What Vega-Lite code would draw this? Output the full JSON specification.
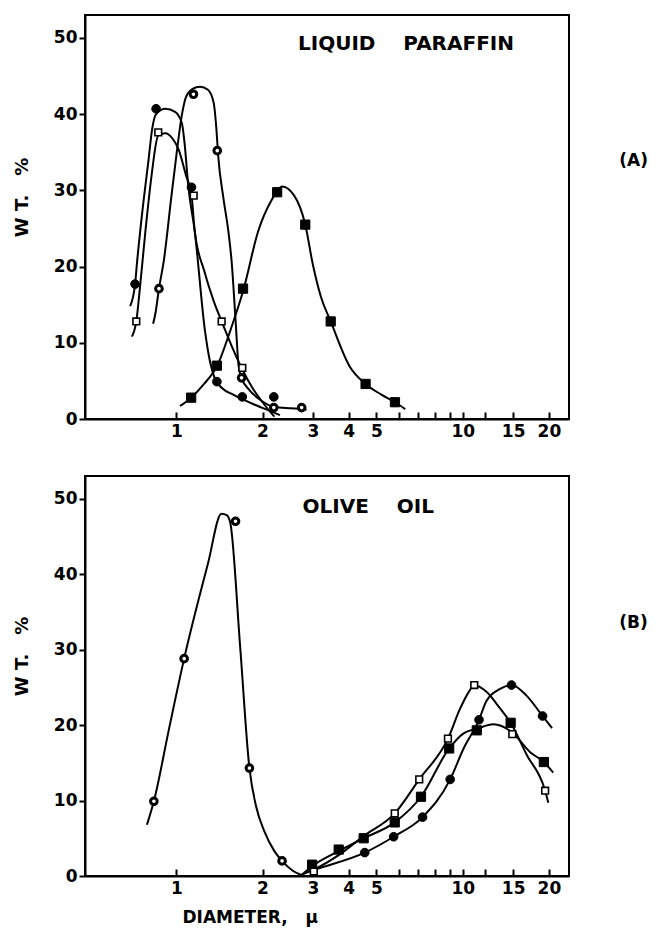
{
 "$schema": "https://vega.github.io/schema/vega-lite/v6.json",
 "padding": {"left": 12, "top": 14, "right": 4, "bottom": 4},
 "background": "white",
 "config": {
  "font": "DejaVu Sans",
  "view": {"stroke": "black", "strokeWidth": 2},
  "axis": {"grid": false, "domainColor": "black", "domainWidth": 2, "tickColor": "black", "tickWidth": 2, "labelColor": "black", "labelFont": "DejaVu Sans", "labelFontWeight": "bold", "labelFontSize": 17, "titleColor": "black", "titleFont": "DejaVu Sans", "titleFontWeight": "bold", "titleFontSize": 18, "labelOverlap": false}
 },
 "datasets": {
  "curves": [
   {"panel":"A","series":"solid circle","d":0.69,"wt":14.8},{"panel":"A","series":"solid circle","d":0.718,"wt":17.7},{"panel":"A","series":"solid circle","d":0.73,"wt":20.7},{"panel":"A","series":"solid circle","d":0.76,"wt":27},{"panel":"A","series":"solid circle","d":0.8,"wt":34},{"panel":"A","series":"solid circle","d":0.824,"wt":38.1},{"panel":"A","series":"solid circle","d":0.85,"wt":40.0},{"panel":"A","series":"solid circle","d":0.916,"wt":40.7},{"panel":"A","series":"solid circle","d":0.99,"wt":40.3},{"panel":"A","series":"solid circle","d":1.046,"wt":38.8},{"panel":"A","series":"solid circle","d":1.07,"wt":36},{"panel":"A","series":"solid circle","d":1.1,"wt":30.7},{"panel":"A","series":"solid circle","d":1.16,"wt":24.6},{"panel":"A","series":"solid circle","d":1.26,"wt":11.5},{"panel":"A","series":"solid circle","d":1.31,"wt":7.6},{"panel":"A","series":"solid circle","d":1.36,"wt":5.4},{"panel":"A","series":"solid circle","d":1.45,"wt":4.0},{"panel":"A","series":"solid circle","d":1.58,"wt":3.2},{"panel":"A","series":"solid circle","d":1.7,"wt":2.6},{"panel":"A","series":"solid circle","d":1.9,"wt":1.8},{"panel":"A","series":"solid circle","d":2.14,"wt":1.0},{"panel":"A","series":"solid circle","d":2.3,"wt":0.5},
   {"panel":"A","series":"open square","d":0.7,"wt":10.8},{"panel":"A","series":"open square","d":0.725,"wt":12.8},{"panel":"A","series":"open square","d":0.75,"wt":18},{"panel":"A","series":"open square","d":0.78,"wt":24.6},{"panel":"A","series":"open square","d":0.82,"wt":32},{"panel":"A","series":"open square","d":0.865,"wt":37.2},{"panel":"A","series":"open square","d":0.916,"wt":37.5},{"panel":"A","series":"open square","d":0.97,"wt":36.8},{"panel":"A","series":"open square","d":1.02,"wt":35.3},{"panel":"A","series":"open square","d":1.08,"wt":32},{"panel":"A","series":"open square","d":1.13,"wt":29.4},{"panel":"A","series":"open square","d":1.16,"wt":24.6},{"panel":"A","series":"open square","d":1.25,"wt":19.5},{"panel":"A","series":"open square","d":1.35,"wt":15.5},{"panel":"A","series":"open square","d":1.44,"wt":12.8},{"panel":"A","series":"open square","d":1.56,"wt":9.6},{"panel":"A","series":"open square","d":1.7,"wt":6.5},{"panel":"A","series":"open square","d":1.85,"wt":4.0},{"panel":"A","series":"open square","d":2.0,"wt":2.2},{"panel":"A","series":"open square","d":2.2,"wt":0.3},
   {"panel":"A","series":"open circle","d":0.83,"wt":12.5},{"panel":"A","series":"open circle","d":0.846,"wt":13.9},{"panel":"A","series":"open circle","d":0.87,"wt":17.1},{"panel":"A","series":"open circle","d":0.904,"wt":20.7},{"panel":"A","series":"open circle","d":0.96,"wt":29},{"panel":"A","series":"open circle","d":1.0,"wt":34.5},{"panel":"A","series":"open circle","d":1.046,"wt":39.9},{"panel":"A","series":"open circle","d":1.08,"wt":42.2},{"panel":"A","series":"open circle","d":1.14,"wt":43.3},{"panel":"A","series":"open circle","d":1.21,"wt":43.6},{"panel":"A","series":"open circle","d":1.29,"wt":43.2},{"panel":"A","series":"open circle","d":1.35,"wt":41.5},{"panel":"A","series":"open circle","d":1.38,"wt":38.1},{"panel":"A","series":"open circle","d":1.4,"wt":34.6},{"panel":"A","series":"open circle","d":1.46,"wt":29},{"panel":"A","series":"open circle","d":1.52,"wt":24.6},{"panel":"A","series":"open circle","d":1.56,"wt":20.7},{"panel":"A","series":"open circle","d":1.61,"wt":13},{"panel":"A","series":"open circle","d":1.65,"wt":7},{"panel":"A","series":"open circle","d":1.69,"wt":5.4},{"panel":"A","series":"open circle","d":1.8,"wt":3.8},{"panel":"A","series":"open circle","d":1.95,"wt":2.6},{"panel":"A","series":"open circle","d":2.19,"wt":1.6},{"panel":"A","series":"open circle","d":2.5,"wt":1.4},{"panel":"A","series":"open circle","d":2.76,"wt":1.3},{"panel":"A","series":"open circle","d":2.85,"wt":1.2},
   {"panel":"A","series":"solid square","d":1.03,"wt":1.7},{"panel":"A","series":"solid square","d":1.127,"wt":2.8},{"panel":"A","series":"solid square","d":1.25,"wt":4.6},{"panel":"A","series":"solid square","d":1.39,"wt":7.0},{"panel":"A","series":"solid square","d":1.55,"wt":11.8},{"panel":"A","series":"solid square","d":1.72,"wt":17.1},{"panel":"A","series":"solid square","d":1.93,"wt":24.6},{"panel":"A","series":"solid square","d":2.15,"wt":28.7},{"panel":"A","series":"solid square","d":2.34,"wt":30.5},{"panel":"A","series":"solid square","d":2.57,"wt":29.4},{"panel":"A","series":"solid square","d":2.82,"wt":25.5},{"panel":"A","series":"solid square","d":3.0,"wt":20.2},{"panel":"A","series":"solid square","d":3.2,"wt":16.0},{"panel":"A","series":"solid square","d":3.46,"wt":12.8},{"panel":"A","series":"solid square","d":4.03,"wt":6.9},{"panel":"A","series":"solid square","d":4.58,"wt":4.6},{"panel":"A","series":"solid square","d":5.2,"wt":3.2},{"panel":"A","series":"solid square","d":5.8,"wt":2.2},{"panel":"A","series":"solid square","d":6.3,"wt":1.3},
   {"panel":"B","series":"open circle","d":0.79,"wt":6.8},{"panel":"B","series":"open circle","d":0.835,"wt":9.9},{"panel":"B","series":"open circle","d":0.942,"wt":19.4},{"panel":"B","series":"open circle","d":1.065,"wt":28.8},{"panel":"B","series":"open circle","d":1.29,"wt":41.4},{"panel":"B","series":"open circle","d":1.437,"wt":48.0},{"panel":"B","series":"open circle","d":1.5,"wt":47.8},{"panel":"B","series":"open circle","d":1.545,"wt":46.7},{"panel":"B","series":"open circle","d":1.67,"wt":30.5},{"panel":"B","series":"open circle","d":1.8,"wt":14.3},{"panel":"B","series":"open circle","d":1.9,"wt":9.2},{"panel":"B","series":"open circle","d":2.03,"wt":5.9},{"panel":"B","series":"open circle","d":2.2,"wt":3.3},{"panel":"B","series":"open circle","d":2.34,"wt":2.0},{"panel":"B","series":"open circle","d":2.55,"wt":0.7},{"panel":"B","series":"open circle","d":2.75,"wt":0.1},
   {"panel":"B","series":"open square","d":2.75,"wt":0.2},{"panel":"B","series":"open square","d":3.0,"wt":0.8},{"panel":"B","series":"open square","d":3.7,"wt":2.8},{"panel":"B","series":"open square","d":4.51,"wt":5.3},{"panel":"B","series":"open square","d":5.79,"wt":8.3},{"panel":"B","series":"open square","d":7.05,"wt":12.8},{"panel":"B","series":"open square","d":8.88,"wt":18.2},{"panel":"B","series":"open square","d":9.8,"wt":22.2},{"panel":"B","series":"open square","d":10.5,"wt":24.4},{"panel":"B","series":"open square","d":10.97,"wt":25.3},{"panel":"B","series":"open square","d":12.1,"wt":24.4},{"panel":"B","series":"open square","d":13.5,"wt":22.2},{"panel":"B","series":"open square","d":14.7,"wt":20.3},{"panel":"B","series":"open square","d":16.7,"wt":16.1},{"panel":"B","series":"open square","d":19.4,"wt":11.3},{"panel":"B","series":"open square","d":19.9,"wt":9.7},
   {"panel":"B","series":"solid square","d":2.75,"wt":0.2},{"panel":"B","series":"solid square","d":2.98,"wt":1.3},{"panel":"B","series":"solid square","d":3.69,"wt":3.3},{"panel":"B","series":"solid square","d":4.51,"wt":5.0},{"panel":"B","series":"solid square","d":5.79,"wt":7.1},{"panel":"B","series":"solid square","d":7.15,"wt":10.5},{"panel":"B","series":"solid square","d":8.97,"wt":16.9},{"panel":"B","series":"solid square","d":10.07,"wt":18.9},{"panel":"B","series":"solid square","d":11.2,"wt":19.5},{"panel":"B","series":"solid square","d":12.8,"wt":20.1},{"panel":"B","series":"solid square","d":14.9,"wt":19.0},{"panel":"B","series":"solid square","d":17.2,"wt":16.4},{"panel":"B","series":"solid square","d":19.2,"wt":15.1},{"panel":"B","series":"solid square","d":20.7,"wt":13.7},
   {"panel":"B","series":"solid circle","d":2.79,"wt":0.4},{"panel":"B","series":"solid circle","d":3.19,"wt":1.1},{"panel":"B","series":"solid circle","d":4.55,"wt":3.1},{"panel":"B","series":"solid circle","d":5.74,"wt":5.2},{"panel":"B","series":"solid circle","d":7.24,"wt":7.8},{"panel":"B","series":"solid circle","d":9.04,"wt":12.8},{"panel":"B","series":"solid circle","d":10.07,"wt":16.9},{"panel":"B","series":"solid circle","d":11.4,"wt":20.7},{"panel":"B","series":"solid circle","d":12.1,"wt":23.2},{"panel":"B","series":"solid circle","d":13.5,"wt":24.8},{"panel":"B","series":"solid circle","d":14.8,"wt":25.3},{"panel":"B","series":"solid circle","d":16.7,"wt":23.9},{"panel":"B","series":"solid circle","d":19.0,"wt":21.2},{"panel":"B","series":"solid circle","d":20.5,"wt":19.6}
  ],
  "points": [
   {"panel":"A","series":"solid circle","d":0.718,"wt":17.7},{"panel":"A","series":"solid circle","d":0.85,"wt":40.7},{"panel":"A","series":"solid circle","d":1.13,"wt":30.4},{"panel":"A","series":"solid circle","d":1.386,"wt":4.9},{"panel":"A","series":"solid circle","d":1.7,"wt":2.9},{"panel":"A","series":"solid circle","d":2.19,"wt":2.9},
   {"panel":"A","series":"open square","d":0.725,"wt":12.8},{"panel":"A","series":"open square","d":0.865,"wt":37.6},{"panel":"A","series":"open square","d":1.15,"wt":29.3},{"panel":"A","series":"open square","d":1.44,"wt":12.8},{"panel":"A","series":"open square","d":1.7,"wt":6.7},
   {"panel":"A","series":"open circle","d":0.87,"wt":17.1},{"panel":"A","series":"open circle","d":1.148,"wt":42.6},{"panel":"A","series":"open circle","d":1.39,"wt":35.2},{"panel":"A","series":"open circle","d":1.69,"wt":5.4},{"panel":"A","series":"open circle","d":2.19,"wt":1.5},{"panel":"A","series":"open circle","d":2.74,"wt":1.5},
   {"panel":"A","series":"solid square","d":1.127,"wt":2.8},{"panel":"A","series":"solid square","d":1.386,"wt":7.0},{"panel":"A","series":"solid square","d":1.71,"wt":17.1},{"panel":"A","series":"solid square","d":2.25,"wt":29.75},{"panel":"A","series":"solid square","d":2.82,"wt":25.5},{"panel":"A","series":"solid square","d":3.46,"wt":12.8},{"panel":"A","series":"solid square","d":4.58,"wt":4.6},{"panel":"A","series":"solid square","d":5.8,"wt":2.2},
   {"panel":"B","series":"open circle","d":0.835,"wt":9.9},{"panel":"B","series":"open circle","d":1.065,"wt":28.8},{"panel":"B","series":"open circle","d":1.61,"wt":47.0},{"panel":"B","series":"open circle","d":1.8,"wt":14.3},{"panel":"B","series":"open circle","d":2.34,"wt":2.0},
   {"panel":"B","series":"solid circle","d":4.55,"wt":3.1},{"panel":"B","series":"solid circle","d":5.74,"wt":5.2},{"panel":"B","series":"solid circle","d":7.24,"wt":7.8},{"panel":"B","series":"solid circle","d":9.04,"wt":12.8},{"panel":"B","series":"solid circle","d":11.4,"wt":20.7},{"panel":"B","series":"solid circle","d":14.8,"wt":25.3},{"panel":"B","series":"solid circle","d":19.0,"wt":21.2},
   {"panel":"B","series":"open square","d":3.02,"wt":0.6},{"panel":"B","series":"open square","d":5.79,"wt":8.3},{"panel":"B","series":"open square","d":7.05,"wt":12.8},{"panel":"B","series":"open square","d":8.88,"wt":18.2},{"panel":"B","series":"open square","d":10.97,"wt":25.3},{"panel":"B","series":"open square","d":14.9,"wt":18.8},{"panel":"B","series":"open square","d":19.4,"wt":11.3},
   {"panel":"B","series":"solid square","d":2.98,"wt":1.5},{"panel":"B","series":"solid square","d":3.69,"wt":3.5},{"panel":"B","series":"solid square","d":4.51,"wt":5.0},{"panel":"B","series":"solid square","d":5.79,"wt":7.1},{"panel":"B","series":"solid square","d":7.15,"wt":10.5},{"panel":"B","series":"solid square","d":8.97,"wt":16.9},{"panel":"B","series":"solid square","d":11.2,"wt":19.3},{"panel":"B","series":"solid square","d":14.7,"wt":20.3},{"panel":"B","series":"solid square","d":19.2,"wt":15.1}
  ],
  "notes": [
   {"panel":"A","kind":"name","d":2.66,"wt":49.2,"label":"LIQUID\u00a0\u00a0\u00a0\u00a0PARAFFIN"},
   {"panel":"A","kind":"tag","d":35.2,"wt":33.8,"label":"(A)"},
   {"panel":"B","kind":"name","d":2.76,"wt":48.9,"label":"OLIVE\u00a0\u00a0\u00a0\u00a0OIL"},
   {"panel":"B","kind":"tag","d":35.2,"wt":33.5,"label":"(B)"}
  ]
 },
 "spacing": 57,
 "bounds": "flush",
 "vconcat": [
  {
   "width": 484, "height": 404,
   "encoding": {
    "x": {"field": "d", "type": "quantitative", "scale": {"type": "log", "domain": [0.48, 23.5], "nice": false}, "axis": {"title": null, "values": [1,2,3,4,5,6,7,8,9,10,12,15,20], "labelExpr": "indexof([6,7,8,9,12], datum.value) >= 0 ? '' : datum.label", "tickSize": -7, "labelPadding": 11}},
    "y": {"field": "wt", "type": "quantitative", "scale": {"domain": [0, 53], "nice": false}, "axis": {"title": "W T.\u00a0\u00a0\u00a0%", "values": [0,10,20,30,40,50], "tickSize": 6, "labelPadding": 2, "titlePadding": 22, "titleY": 182}}
   },
   "layer": [
    {"data": {"name": "curves"}, "transform": [{"filter": "datum.panel == 'A'"}], "mark": {"type": "line", "interpolate": "monotone", "color": "black", "strokeWidth": 2}, "encoding": {"detail": {"field": "series"}}},
    {"data": {"name": "points"}, "transform": [{"filter": "datum.panel == 'A' && datum.series == 'solid circle'"}], "mark": {"type": "point", "shape": "circle", "filled": true, "fill": "black", "stroke": "black", "strokeWidth": 1, "size": 75, "opacity": 1}},
    {"data": {"name": "points"}, "transform": [{"filter": "datum.panel == 'A' && datum.series == 'solid square'"}], "mark": {"type": "point", "shape": "square", "filled": true, "fill": "black", "stroke": "black", "strokeWidth": 1, "size": 85, "opacity": 1}},
    {"data": {"name": "points"}, "transform": [{"filter": "datum.panel == 'A' && datum.series == 'open circle'"}], "mark": {"type": "point", "shape": "circle", "filled": true, "fill": "white", "stroke": "black", "strokeWidth": 3, "size": 44, "opacity": 1, "fillOpacity": 1, "strokeOpacity": 1}},
    {"data": {"name": "points"}, "transform": [{"filter": "datum.panel == 'A' && datum.series == 'open square'"}], "mark": {"type": "point", "shape": "square", "filled": true, "fill": "white", "stroke": "black", "strokeWidth": 1.6, "size": 45, "opacity": 1, "fillOpacity": 1, "strokeOpacity": 1}},
    {"data": {"name": "notes"}, "transform": [{"filter": "datum.panel == 'A' && datum.kind == 'name'"}], "mark": {"type": "text", "align": "left", "baseline": "middle", "fontSize": 20, "fontWeight": "bold", "color": "black"}, "encoding": {"text": {"field": "label"}}},
    {"data": {"name": "notes"}, "transform": [{"filter": "datum.panel == 'A' && datum.kind == 'tag'"}], "mark": {"type": "text", "align": "left", "baseline": "middle", "fontSize": 17, "fontWeight": "bold", "color": "black"}, "encoding": {"text": {"field": "label"}}}
   ]
  },
  {
   "width": 484, "height": 400,
   "encoding": {
    "x": {"field": "d", "type": "quantitative", "scale": {"type": "log", "domain": [0.48, 23.5], "nice": false}, "axis": {"title": "DIAMETER,\u00a0\u00a0\u00a0μ", "titleAnchor": "start", "titleAlign": "left", "titleX": 97, "titleY": 46, "titleBaseline": "alphabetic", "titleFontSize": 17, "values": [1,2,3,4,5,6,7,8,9,10,12,15,20], "labelExpr": "indexof([6,7,8,9,12], datum.value) >= 0 ? '' : datum.label", "tickSize": -7, "labelPadding": 11}},
    "y": {"field": "wt", "type": "quantitative", "scale": {"domain": [0, 53], "nice": false}, "axis": {"title": "W T.\u00a0\u00a0\u00a0%", "values": [0,10,20,30,40,50], "tickSize": 6, "labelPadding": 2, "titlePadding": 22, "titleY": 180}}
   },
   "layer": [
    {"data": {"name": "curves"}, "transform": [{"filter": "datum.panel == 'B'"}], "mark": {"type": "line", "interpolate": "monotone", "color": "black", "strokeWidth": 2}, "encoding": {"detail": {"field": "series"}}},
    {"data": {"name": "points"}, "transform": [{"filter": "datum.panel == 'B' && datum.series == 'solid circle'"}], "mark": {"type": "point", "shape": "circle", "filled": true, "fill": "black", "stroke": "black", "strokeWidth": 1, "size": 75, "opacity": 1}},
    {"data": {"name": "points"}, "transform": [{"filter": "datum.panel == 'B' && datum.series == 'solid square'"}], "mark": {"type": "point", "shape": "square", "filled": true, "fill": "black", "stroke": "black", "strokeWidth": 1, "size": 85, "opacity": 1}},
    {"data": {"name": "points"}, "transform": [{"filter": "datum.panel == 'B' && datum.series == 'open circle'"}], "mark": {"type": "point", "shape": "circle", "filled": true, "fill": "white", "stroke": "black", "strokeWidth": 3, "size": 44, "opacity": 1, "fillOpacity": 1, "strokeOpacity": 1}},
    {"data": {"name": "points"}, "transform": [{"filter": "datum.panel == 'B' && datum.series == 'open square'"}], "mark": {"type": "point", "shape": "square", "filled": true, "fill": "white", "stroke": "black", "strokeWidth": 1.6, "size": 45, "opacity": 1, "fillOpacity": 1, "strokeOpacity": 1}},
    {"data": {"name": "notes"}, "transform": [{"filter": "datum.panel == 'B' && datum.kind == 'name'"}], "mark": {"type": "text", "align": "left", "baseline": "middle", "fontSize": 20, "fontWeight": "bold", "color": "black"}, "encoding": {"text": {"field": "label"}}},
    {"data": {"name": "notes"}, "transform": [{"filter": "datum.panel == 'B' && datum.kind == 'tag'"}], "mark": {"type": "text", "align": "left", "baseline": "middle", "fontSize": 17, "fontWeight": "bold", "color": "black"}, "encoding": {"text": {"field": "label"}}}
   ]
  }
 ]
}
